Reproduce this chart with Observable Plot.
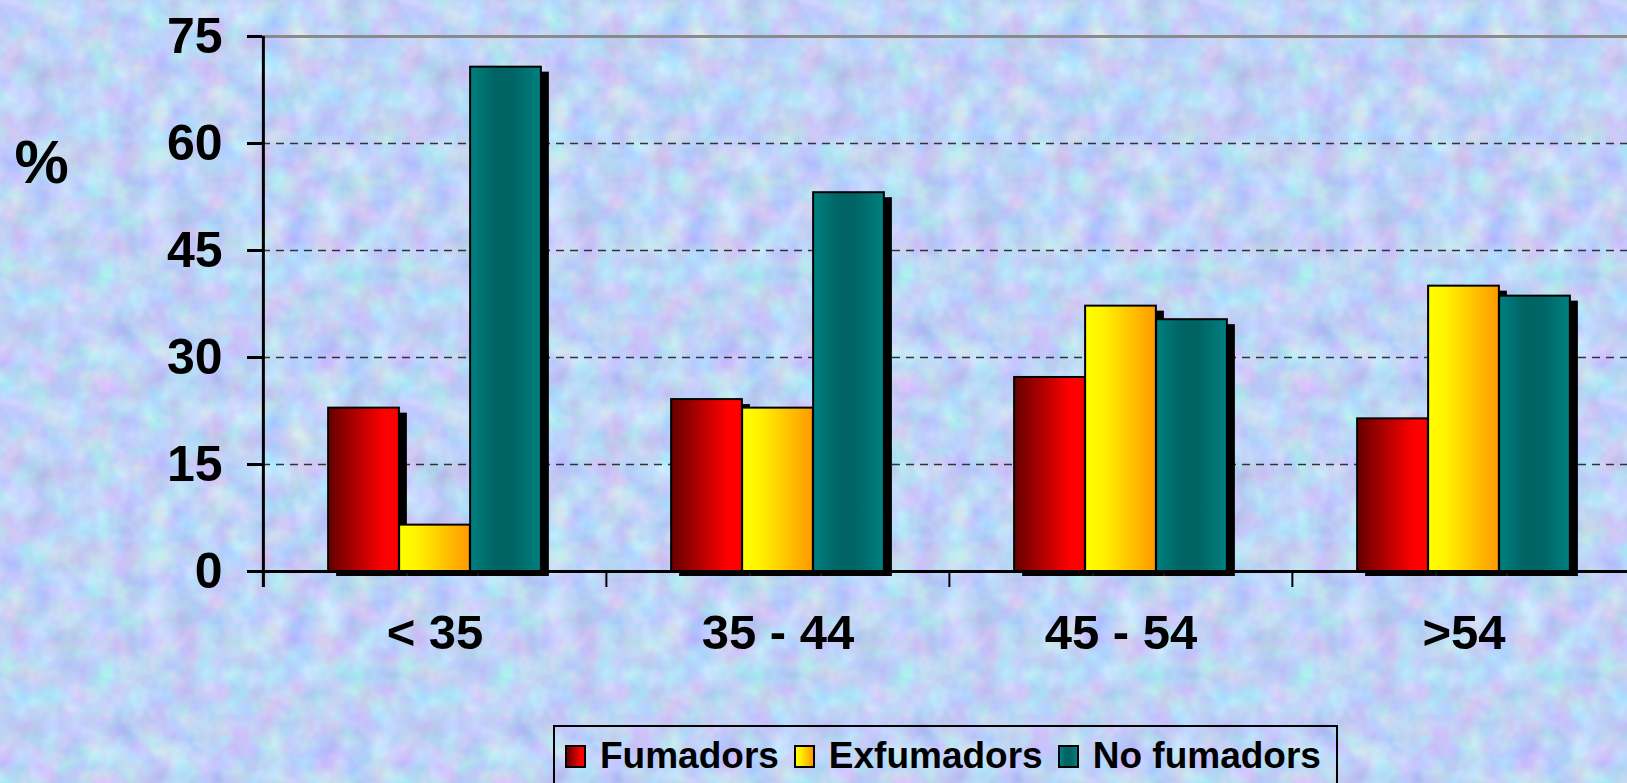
<!DOCTYPE html>
<html>
<head>
<meta charset="utf-8">
<script src="https://cdn.jsdelivr.net/npm/d3@7"></script>
<script src="https://cdn.jsdelivr.net/npm/@observablehq/plot@0.6"></script>
<style>
  html, body { margin: 0; padding: 0; }
  body {
    width: 1627px; height: 783px; overflow: hidden;
    background-color: #c4d2f3;
    font-family: "Liberation Sans", Arial, sans-serif;
  }
  #legend {
    box-sizing: border-box;
    margin-left: 553px; margin-top: 5px;
    width: 785px; height: 80px;
    border: 2px solid #000;
    display: flex; align-items: flex-start; flex-wrap: nowrap;
    padding: 8px 0 0 10px;
    font-weight: bold; font-size: 37px; color: #000;
    white-space: nowrap;
  }
  .item { display: flex; align-items: center; margin-right: 15px; flex-shrink: 0; white-space: nowrap; }
  .sw { box-sizing: border-box; width: 21px; height: 23px; border: 2px solid #000; margin-right: 14px; flex-shrink: 0; }
</style>
</head>
<body>
<div id="chart"></div>
<div id="legend"></div>
<script>
// ---- data ----
const ages = ["< 35", "35 - 44", "45 - 54", ">54"];
const seriesNames = ["Fumadors", "Exfumadors", "No fumadors"];
const fumadors = [22.9, 24.1, 27.2, 21.4];
const exfumadors = [6.5, 22.9, 37.2, 40.0];
const noFumadors = [70.7, 53.1, 35.3, 38.6];
const yTicks = [0, 15, 30, 45, 60, 75];
const gridTicks = [15, 30, 45, 60];

// ---- textured background ----
const noiseSvg = "<svg xmlns='http://www.w3.org/2000/svg' width='400' height='400'>" +
  "<filter id='n' x='0' y='0' width='100%' height='100%' color-interpolation-filters='sRGB'>" +
  "<feTurbulence type='fractalNoise' baseFrequency='0.035' numOctaves='3' seed='7' stitchTiles='stitch'/>" +
  "<feColorMatrix type='matrix' values='0.3 0 0 0 0.60  0 0.3 0 0 0.68  0 0 0.15 0 0.89  0 0 0 0 1'/>" +
  "</filter><rect width='400' height='400' filter='url(#n)'/></svg>";
document.body.style.backgroundImage = `url("data:image/svg+xml;charset=utf-8,${encodeURIComponent(noiseSvg)}")`;

// ---- styling ----
const gradients = [
  {id: "gFum", stops: [[0, "#640000"], [0.8, "#ff0000"], [1, "#ff0000"]]},
  {id: "gEx", stops: [[0, "#ffff00"], [0.25, "#fff200"], [1, "#ff9900"]]},
  {id: "gNo", stops: [[0, "#008080"], [0.35, "#006464"], [0.6, "#006464"], [1, "#008080"]]}
];

const W = 1627, H = 720;
const mL = 262, mR = -8, mT = 36, mB = 149;
const frameW = W - mL - mR, frameH = H - mT - mB;
const bw = frameW / ages.length;
const barW = 71;
const inset = (bw - barW) / 2;

const seriesValues = [fumadors, exfumadors, noFumadors];
const rows = seriesNames.map((s, i) => ages.map((a, j) => ({age: a, series: s, value: seriesValues[i][j]})));

const barMarks = [];
rows.forEach((data, i) => {
  barMarks.push(Plot.barY(data, {x: "age", y: "value", fill: "black", insetLeft: inset, insetRight: inset, dx: (i - 1) * barW + 8, dy: 5}));
  barMarks.push(Plot.barY(data, {x: "age", y: "value", fill: `url(#${gradients[i].id})`, stroke: "black", strokeWidth: 2, insetLeft: inset, insetRight: inset, dx: (i - 1) * barW}));
});

const chart = Plot.plot({
  width: W, height: H,
  marginLeft: mL, marginRight: mR, marginTop: mT, marginBottom: mB,
  style: {background: "transparent", fontFamily: "'Liberation Sans', Arial, sans-serif", color: "black"},
  x: {domain: ages, padding: 0, axis: null},
  y: {domain: [0, 75], axis: null},
  marks: [
    Plot.ruleY(gridTicks, {stroke: "#333", strokeWidth: 1.5, strokeDasharray: "8,6"}),
    Plot.ruleY([75], {stroke: "#8a8a8a", strokeWidth: 3}),
    ...barMarks,
    Plot.ruleY([0], {stroke: "black", strokeWidth: 3}),
    Plot.ruleX([ages[0]], {dx: -bw / 2, stroke: "black", strokeWidth: 3, insetBottom: -16}),
    Plot.ruleY(yTicks, {stroke: "black", strokeWidth: 3, insetLeft: -15, insetRight: frameW}),
    Plot.ruleX(ages, {dx: -bw / 2, stroke: "black", strokeWidth: 2, insetTop: frameH, insetBottom: -16}),
    Plot.text(yTicks, {y: d => d, text: d => String(d), frameAnchor: "left", textAnchor: "end", dx: -40, fontSize: 50, fontWeight: "bold", fill: "black"}),
    Plot.text(ages, {x: d => d, text: d => d, frameAnchor: "bottom", dy: 77, fontSize: 49, fontWeight: "bold", fill: "black"}),
    Plot.text(["%"], {frameAnchor: "top-left", textAnchor: "middle", lineAnchor: "middle", dx: -221, dy: 127, fontSize: 61, fontWeight: "bold", fill: "black"})
  ]
});

const defs = d3.select(chart).insert("defs", ":first-child");
for (const g of gradients) {
  const lg = defs.append("linearGradient").attr("id", g.id).attr("x1", "0").attr("x2", "1").attr("y1", "0").attr("y2", "0");
  for (const [o, c] of g.stops) lg.append("stop").attr("offset", o).attr("stop-color", c);
}
document.getElementById("chart").appendChild(chart);

// legend
const legend = document.getElementById("legend");
seriesNames.forEach((s, i) => {
  const item = document.createElement("div");
  item.className = "item";
  const sw = document.createElement("div");
  sw.className = "sw";
  sw.style.background = `linear-gradient(to right, ${gradients[i].stops.map(([o, c]) => `${c} ${o * 100}%`).join(", ")})`;
  const t = document.createElement("span");
  t.textContent = s;
  item.appendChild(sw);
  item.appendChild(t);
  legend.appendChild(item);
});
</script>
</body>
</html>
